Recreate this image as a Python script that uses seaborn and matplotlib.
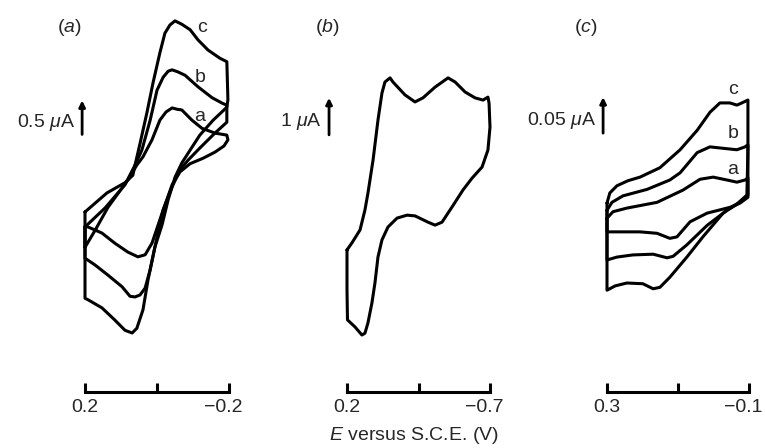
import pandas as pd
import matplotlib
matplotlib.use('Agg')
import matplotlib.pyplot as plt
import matplotlib.transforms as mtransforms
import seaborn as sns

# Panel (a): potential E (V) and current i (uA), curves a, b, c
a_E_a = [0.200, 0.172, 0.136, 0.081, 0.056, 0.039, 0.014, -0.008, -0.025, -0.042, -0.056, -0.069, -0.097, -0.125,
         -0.161, -0.194, -0.197, -0.186, -0.161, -0.128, -0.092, -0.064, -0.042, -0.014, 0.014, 0.033, 0.053, 0.081,
         0.117, 0.153, 0.192, 0.200, 0.200]
a_i_a = [-0.99, -0.74, -0.40, 0.00, 0.22, 0.34, 0.59, 0.88, 1.00, 1.06, 1.04, 1.03, 0.88, 0.76, 0.69, 0.66, 0.59,
         0.50, 0.41, 0.32, 0.24, 0.12, -0.07, -0.49, -0.93, -1.10, -1.13, -1.06, -0.93, -0.78, -0.69, -0.68, -0.99]
a_E_b = [0.200, 0.144, 0.089, 0.061, 0.042, 0.019, 0.000, -0.017, -0.031, -0.042, -0.058, -0.078, -0.114, -0.153,
         -0.181, -0.194, -0.194, -0.161, -0.119, -0.086, -0.064, -0.042, -0.017, 0.000, 0.019, 0.033, 0.047, 0.061,
         0.075, 0.097, 0.136, 0.172, 0.200, 0.200]
a_i_b = [-0.69, -0.41, -0.07, 0.22, 0.44, 0.88, 1.32, 1.51, 1.60, 1.62, 1.59, 1.54, 1.37, 1.21, 1.13, 1.10, 0.85,
         0.69, 0.47, 0.29, 0.15, -0.10, -0.44, -0.84, -1.32, -1.59, -1.69, -1.72, -1.71, -1.57, -1.40, -1.25, -1.15,
         -0.69]
a_E_c = [0.200, 0.139, 0.089, 0.067, 0.061, 0.047, 0.028, 0.011, -0.008, -0.022, -0.036, -0.050, -0.069, -0.092,
         -0.114, -0.142, -0.175, -0.194, -0.197, -0.194, -0.156, -0.119, -0.092, -0.069, -0.050, -0.031, -0.014,
         0.006, 0.025, 0.039, 0.056, 0.069, 0.089, 0.117, 0.153, 0.192, 0.200, 0.200]
a_i_c = [-0.47, -0.19, -0.04, 0.07, 0.22, 0.54, 0.99, 1.43, 1.87, 2.16, 2.28, 2.34, 2.29, 2.21, 2.06, 1.91, 1.79,
         1.74, 1.18, 1.07, 0.88, 0.66, 0.44, 0.25, 0.04, -0.29, -0.66, -0.99, -1.47, -1.91, -2.18, -2.25, -2.21,
         -2.06, -1.88, -1.76, -1.74, -0.47]

# Panel (b)
b_E = [0.200, 0.169, 0.118, 0.087, 0.068, 0.036, 0.005, -0.020, -0.039, -0.071, -0.089, -0.165, -0.228, -0.278,
       -0.354, -0.436, -0.480, -0.543, -0.606, -0.656, -0.687, -0.694, -0.700, -0.687, -0.650, -0.587, -0.530,
       -0.461, -0.398, -0.354, -0.310, -0.228, -0.178, -0.115, -0.058, -0.020, 0.005, 0.024, 0.043, 0.068, 0.087,
       0.106, 0.150, 0.197, 0.200, 0.200]
b_i = [-1.89, -1.70, -1.35, -0.81, -0.35, 0.54, 1.62, 2.35, 2.65, 2.76, 2.65, 2.30, 2.11, 2.22, 2.51, 2.76, 2.65,
       2.38, 2.22, 2.16, 2.24, 2.08, 1.43, 0.81, 0.35, 0.05, -0.27, -0.73, -1.14, -1.22, -1.14, -0.97, -0.95, -1.03,
       -1.27, -1.62, -2.08, -2.78, -3.32, -3.86, -4.14, -4.19, -3.97, -3.78, -2.97, -1.89]

# Panel (c)
c_E_a = [0.300, 0.283, 0.244, 0.159, 0.086, 0.038, 0.001, -0.038, -0.066, -0.089, -0.097, -0.097, -0.075, -0.046,
         0.018, 0.066, 0.103, 0.123, 0.159, 0.207, 0.255, 0.300, 0.300]
c_i_a = [-0.053, -0.044, -0.039, -0.031, -0.014, 0.001, 0.004, 0.000, -0.003, 0.000, 0.003, -0.024, -0.032, -0.038,
         -0.046, -0.058, -0.079, -0.081, -0.074, -0.072, -0.072, -0.072, -0.053]
c_E_b = [0.300, 0.286, 0.255, 0.187, 0.123, 0.094, 0.046, 0.010, -0.027, -0.066, -0.089, -0.097, -0.097, -0.069,
         -0.038, 0.018, 0.075, 0.114, 0.131, 0.170, 0.227, 0.272, 0.300, 0.300]
c_i_b = [-0.042, -0.031, -0.022, -0.013, 0.000, 0.010, 0.038, 0.046, 0.044, 0.042, 0.046, 0.049, -0.021, -0.033,
         -0.042, -0.063, -0.090, -0.106, -0.108, -0.103, -0.104, -0.107, -0.111, -0.042]
c_E_c = [0.300, 0.292, 0.272, 0.241, 0.207, 0.151, 0.094, 0.046, 0.010, -0.018, -0.046, -0.066, -0.080, -0.097,
         -0.097, -0.094, -0.069, -0.027, 0.030, 0.075, 0.123, 0.151, 0.170, 0.199, 0.244, 0.277, 0.300, 0.300]
c_i_c = [-0.032, -0.018, -0.008, -0.001, 0.004, 0.017, 0.042, 0.069, 0.094, 0.107, 0.107, 0.104, 0.107, 0.111,
         0.042, -0.021, -0.032, -0.046, -0.079, -0.107, -0.135, -0.149, -0.151, -0.144, -0.143, -0.147, -0.153,
         -0.032]

sns.set_theme(style='white')
plt.rcParams['font.family'] = ['Liberation Sans', 'DejaVu Sans']
plt.rcParams['mathtext.fontset'] = 'custom'
plt.rcParams['mathtext.rm'] = 'Liberation Sans'
plt.rcParams['mathtext.it'] = 'Liberation Sans:italic'

W, H = 765, 448
FS = 14
fig = plt.figure(figsize=(W / 100, H / 100), dpi=100)
fig.patch.set_facecolor('white')


def make_df(curves):
    rows = []
    for name, E, i in curves:
        for e, c in zip(E, i):
            rows.append({'E': e, 'i': c, 'curve': name})
    return pd.DataFrame(rows)


panels = [
    dict(px=(85, 229), xlim=(0.2, -0.2), ylim=(-2.5, 2.5), ticks=[0.2, 0.0, -0.2],
         tlabels=['0.2', '', '\u22120.2'],
         curves=[('a', a_E_a, a_i_a), ('b', a_E_b, a_i_b), ('c', a_E_c, a_i_c)],
         bar=(0.208, 0.67, 1.17, '0.5 $\\mu$A'), tag='a', tagx=69,
         names=[('c', -0.125, 2.24), ('b', -0.119, 1.51), ('a', -0.119, 0.93)]),
    dict(px=(347, 490), xlim=(0.2, -0.7), ylim=(-4.595, 4.595), ticks=[0.2, -0.25, -0.7],
         tlabels=['0.2', '', '\u22120.7'],
         curves=[('b', b_E, b_i)],
         bar=(0.313, 1.22, 2.22, '1 $\\mu$A'), tag='b', tagx=327, names=[]),
    dict(px=(607, 749), xlim=(0.3, -0.1), ylim=(-0.236, 0.236), ticks=[0.3, 0.1, -0.1],
         tlabels=['0.3', '', '\u22120.1'],
         curves=[('a', c_E_a, c_i_a), ('b', c_E_b, c_i_b), ('c', c_E_c, c_i_c)],
         bar=(0.311, 0.065, 0.115, '0.05 $\\mu$A'), tag='c', tagx=586,
         names=[('c', -0.055, 0.125), ('b', -0.055, 0.064), ('a', -0.055, 0.015)]),
]

top, bottom = 10, 350
for p in panels:
    x0, x1 = p['px']
    ax = fig.add_axes([x0 / W, 1 - bottom / H, (x1 - x0) / W, (bottom - top) / H])
    ax.set_facecolor('none')
    df = make_df(p['curves'])
    sns.lineplot(data=df, x='E', y='i', units='curve', estimator=None, sort=False,
                 color='black', linewidth=2.2, ax=ax, legend=False)
    for ln in ax.lines:
        ln.set_clip_on(False)
        ln.set_solid_joinstyle('round')
        ln.set_solid_capstyle('round')
    ax.set_xlim(*p['xlim'])
    ax.set_ylim(*p['ylim'])
    for s in ['top', 'left', 'right']:
        ax.spines[s].set_visible(False)
    ax.spines['bottom'].set_position(('outward', 30))
    ax.spines['bottom'].set_linewidth(2.2)
    ax.spines['bottom'].set_color('black')
    ax.set_yticks([])
    ax.set_xticks(p['ticks'])
    ax.set_xticklabels(p['tlabels'])
    ax.tick_params(axis='x', direction='in', length=6.5, width=2.2, color='black',
                   labelsize=FS, pad=5, bottom=True)
    # the number part of the negative end label sits centred on its tick
    last = ax.get_xticklabels()[-1]
    last.set_horizontalalignment('right')
    last.set_transform(last.get_transform() +
                       mtransforms.ScaledTranslation(9.5 / 72, 0, fig.dpi_scale_trans))
    ax.set_xlabel('')
    ax.set_ylabel('')

    # current scale arrow
    bx, yb, yt, txt = p['bar']
    ax.annotate('', xy=(bx, yt), xytext=(bx, yb),
                arrowprops=dict(arrowstyle='-|>', lw=2.0, color='black', mutation_scale=9,
                                shrinkA=0, shrinkB=0),
                annotation_clip=False)
    ax.annotate(txt, xy=(bx, (yb + yt) / 2), xytext=(-5, -4), textcoords='offset points',
                ha='right', va='center', fontsize=FS, annotation_clip=False)

    for nm, ex, iy in p['names']:
        ax.text(ex, iy, nm, fontsize=FS, ha='center', va='center')

    fig.text(p['tagx'] / W, 1 - 28 / H, '($\\mathit{' + p['tag'] + '}$)', fontsize=FS,
             ha='center', va='center')

fig.text(414 / W, 1 - 435 / H, '$\\mathit{E}$ versus S.C.E. (V)', fontsize=FS,
         ha='center', va='center')

fig.savefig('out.png', dpi=100, facecolor='white')
